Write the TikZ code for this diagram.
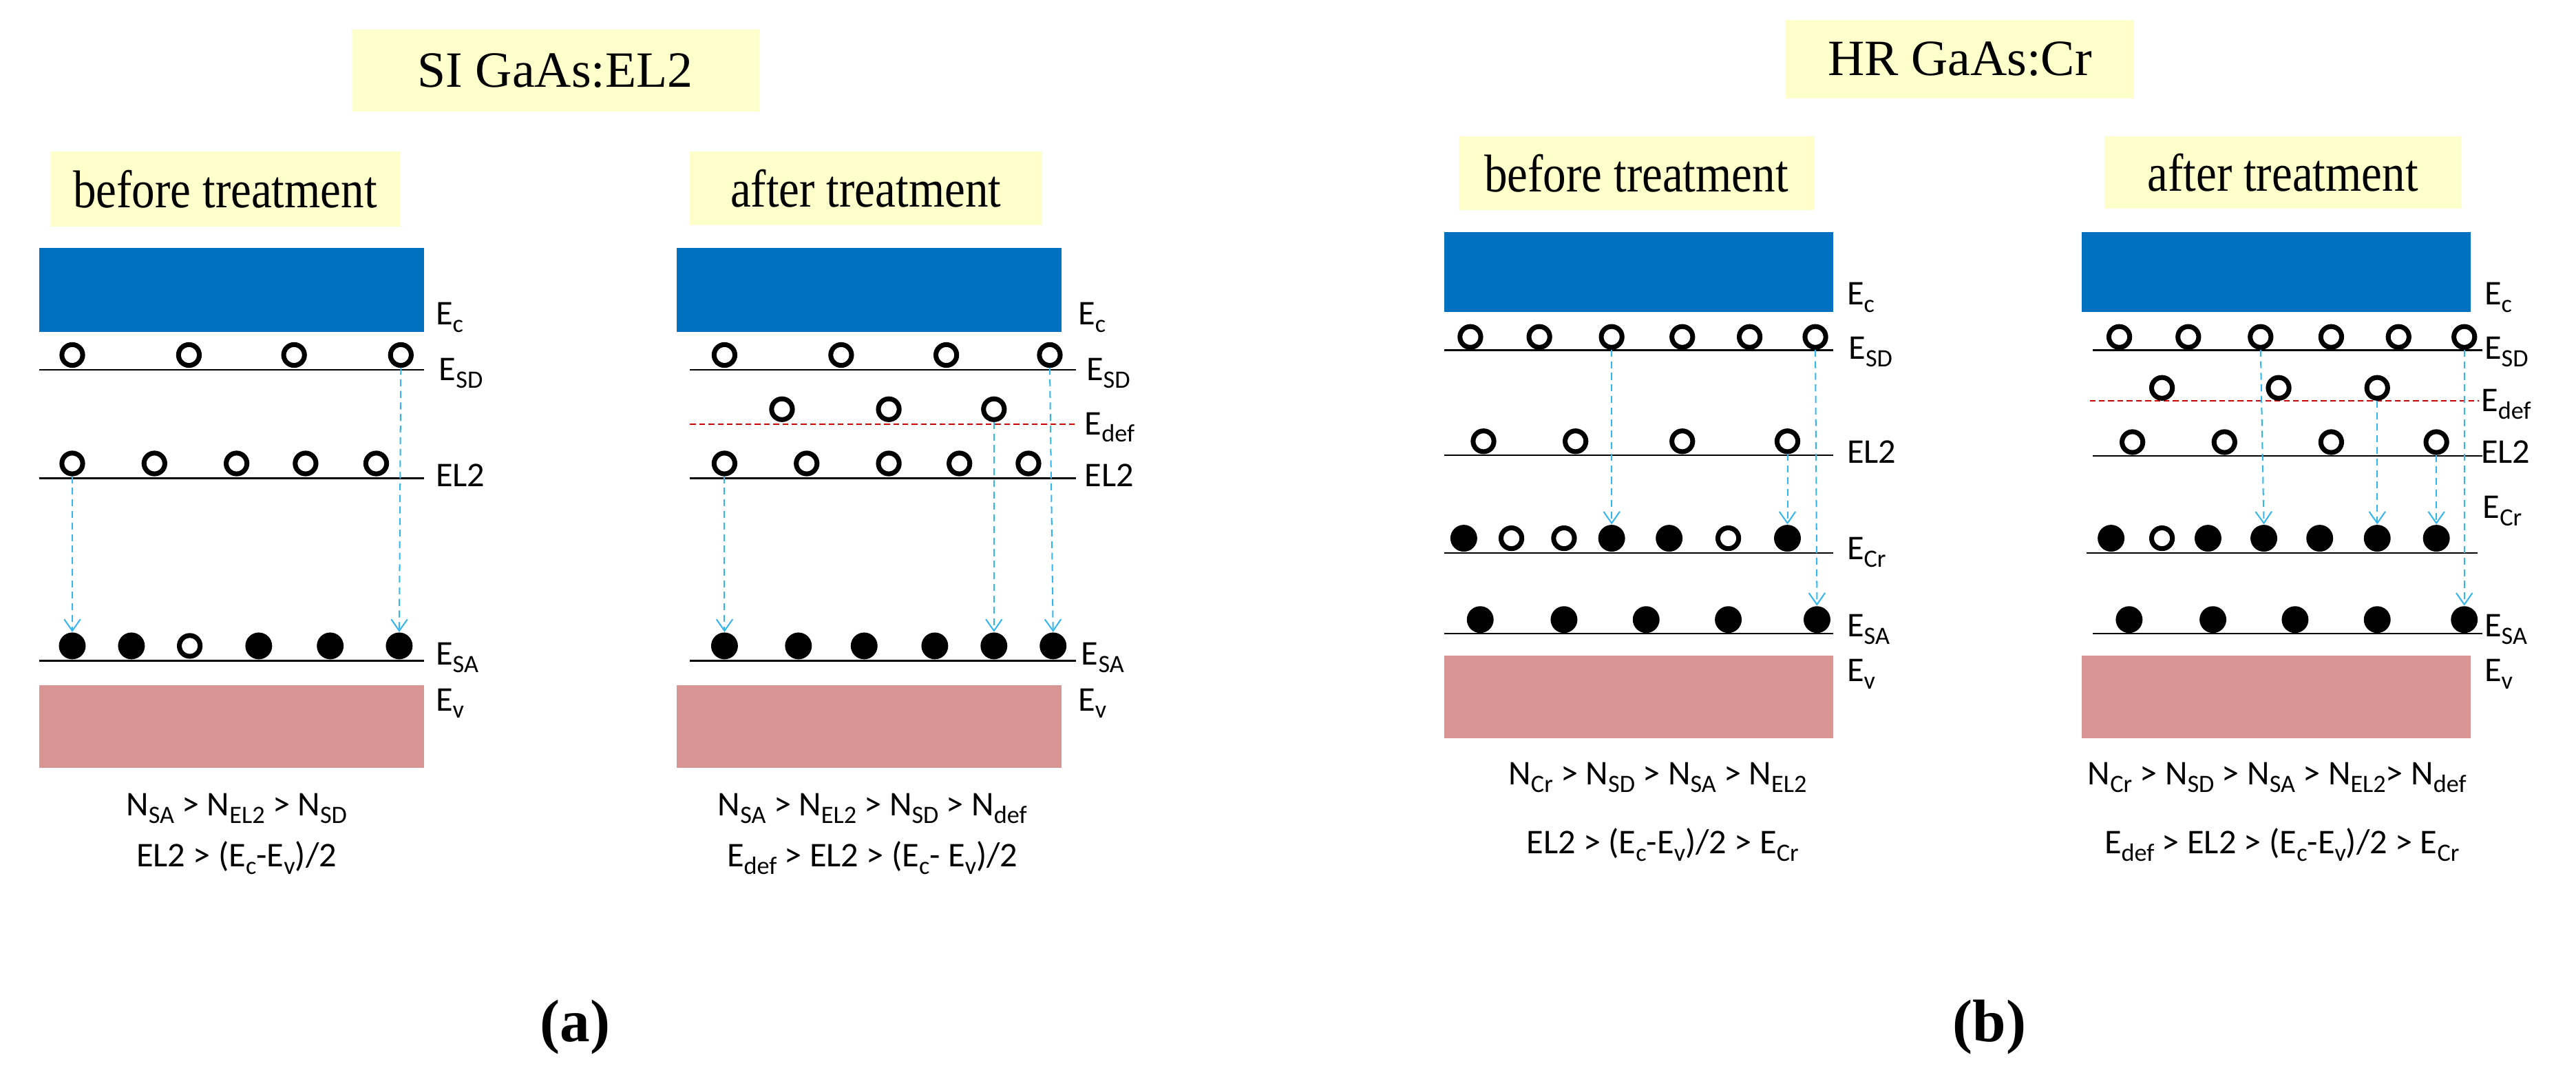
\documentclass[tikz,border=0pt]{standalone}
\usepackage{fontspec}
\setmainfont{Liberation Serif}
\newfontfamily\lab{Carlito}
\usetikzlibrary{arrows.meta}
\definecolor{cblue}{HTML}{0070C0}
\definecolor{cpink}{HTML}{D99594}
\definecolor{cyel}{HTML}{FFFFCC}
\definecolor{carr}{HTML}{33B5F0}
\newcommand\dn[1]{\raisebox{-0.45ex}{\scalebox{0.72}{#1}}}
\begin{document}
\begin{tikzpicture}[x=0.025cm,y=-0.025cm,
  oc/.style={circle,draw=black,line width=2.1pt,fill=white,minimum size=9pt,inner sep=0pt},
  fc/.style={circle,fill=black,minimum size=11.6pt,inner sep=0pt},
  lev/.style={line width=0.7pt},
  defl/.style={red!80!black,line width=0.7pt,dash pattern=on 2.5pt off 1.5pt},
  arr/.style={carr,line width=0.6pt,dash pattern=on 3pt off 2pt,-{Straight Barb[length=5pt,width=7pt]}},
  lb/.style={anchor=west,font=\lab\fontsize{15}{15}\selectfont,inner sep=0pt},
  eq/.style={font=\lab\fontsize{15}{15}\selectfont,inner sep=0pt},
  ttl/.style={fill=cyel,font=\fontsize{22}{22}\selectfont,inner sep=0pt},
  sub/.style={fill=cyel,font=\fontsize{20}{20}\selectfont,inner sep=0pt},
  pl/.style={font=\bfseries\fontsize{26}{26}\selectfont,inner sep=0pt}]
\useasboundingbox (0,0) rectangle (1568,654);

% ---------- titles ----------
\node[ttl,minimum width=248*0.025cm,minimum height=50*0.025cm] (tA) at (338,43) {SI GaAs:EL2};
\node[ttl,minimum width=212*0.025cm,minimum height=48*0.025cm] (tB) at (1193,36) {HR GaAs:Cr};
\node[sub,minimum width=213*0.025cm,minimum height=46*0.025cm] (sA1) at (137,115) {\scalebox{1}[1.15]{before treatment}};
\node[sub,minimum width=214*0.025cm,minimum height=45*0.025cm] (sA2) at (527,114.5) {\scalebox{1}[1.15]{after treatment}};
\node[sub,minimum width=216*0.025cm,minimum height=45*0.025cm] (sB1) at (996,105.5) {\scalebox{1}[1.15]{before treatment}};
\node[sub,minimum width=217*0.025cm,minimum height=44*0.025cm] (sB2) at (1389.5,105) {\scalebox{1}[1.15]{after treatment}};
\node[pl] (pa) at (350,625) {(a)};
\node[pl] (pb) at (1211,625) {(b)};

% ================= panel a, before =================
\fill[cblue] (23.7,151) rectangle (258,202);
\fill[cpink] (23.7,417) rectangle (258,467);
\draw[lev] (23.7,225) -- (258,225);
\draw[lev] (23.7,291) -- (258,291);
\draw[lev] (23.7,402) -- (258,402);
\foreach \x [count=\i] in {44,115,179,244} \node[oc] (aSD\i) at (\x,216) {};
\foreach \x [count=\i] in {44,94,144,186,229} \node[oc] (aEL\i) at (\x,282) {};
\foreach \x/\s [count=\i] in {44/fc,80/fc,115.5/oc,157.5/fc,201/fc,243/fc} \node[\s] (aSA\i) at (\x,393) {};
\draw[arr] (aEL1.south) -- (aSA1.north);
\draw[arr] (aSD4.south) -- (aSA6.north);
\node[lb] (laEc) at (265,193) {E\dn{c}};
\node[lb] (laSD) at (267,227) {E\dn{SD}};
\node[lb] (laEL) at (265,289) {EL2};
\node[lb] (laSA) at (265,400) {E\dn{SA}};
\node[lb] (laEv) at (265,428) {E\dn{v}};
\node[eq] (qa1) at (144,492) {N\dn{SA} > N\dn{EL2} > N\dn{SD}};
\node[eq] (qa2) at (144,522) {EL2 > (E\dn{c}-E\dn{v})/2};

% ================= panel a, after =================
\fill[cblue] (412,151) rectangle (646,202);
\fill[cpink] (412,417) rectangle (646,467);
\draw[lev] (420,225) -- (655,225);
\draw[defl] (420,258) -- (655,258);
\draw[lev] (420,291) -- (655,291);
\draw[lev] (420,402) -- (655,402);
\foreach \x [count=\i] in {441,512,576,639} \node[oc] (bSD\i) at (\x,216) {};
\foreach \x [count=\i] in {476,541,605} \node[oc] (bDF\i) at (\x,249) {};
\foreach \x [count=\i] in {441,491,541,584,626} \node[oc] (bEL\i) at (\x,282) {};
\foreach \x [count=\i] in {441,486,526,569,605,641} \node[fc] (bSA\i) at (\x,393) {};
\draw[arr] (bEL1.south) -- (bSA1.north);
\draw[arr] (bDF3.south) -- (bSA5.north);
\draw[arr] (bSD4.south) -- (bSA6.north);
\node[lb] (lbEc) at (656,193) {E\dn{c}};
\node[lb] (lbSD) at (661,227) {E\dn{SD}};
\node[lb] (lbDF) at (660,260) {E\dn{def}};
\node[lb] (lbEL) at (660,289) {EL2};
\node[lb] (lbSA) at (658,400) {E\dn{SA}};
\node[lb] (lbEv) at (656,428) {E\dn{v}};
\node[eq] (qb1) at (531,492) {N\dn{SA} > N\dn{EL2} > N\dn{SD} > N\dn{def}};
\node[eq] (qb2) at (531,522) {E\dn{def} > EL2 > (E\dn{c}- E\dn{v})/2};

% ================= panel b, before =================
\fill[cblue] (879,141) rectangle (1116,190);
\fill[cpink] (879,399) rectangle (1116,449);
\draw[lev] (879,213) -- (1116,213);
\draw[lev] (879,277) -- (1116,277);
\draw[lev] (879,336.5) -- (1116,336.5);
\draw[lev] (879,385.5) -- (1116,385.5);
\foreach \x [count=\i] in {895,937,981,1024,1065,1105} \node[oc] (cSD\i) at (\x,205) {};
\foreach \x [count=\i] in {903,959,1024,1088} \node[oc] (cEL\i) at (\x,268.5) {};
\foreach \x/\s [count=\i] in {891/fc,920/oc,952/oc,981/fc,1016/fc,1052/oc,1088/fc} \node[\s] (cCR\i) at (\x,327.5) {};
\foreach \x [count=\i] in {901,952,1002,1052,1106} \node[fc] (cSA\i) at (\x,377) {};
\draw[arr] (cSD3.south) -- (cCR4.north);
\draw[arr] (cEL4.south) -- (cCR7.north);
\draw[arr] (cSD6.south) -- (cSA5.north);
\node[lb] (lcEc) at (1124,181) {E\dn{c}};
\node[lb] (lcSD) at (1125,214) {E\dn{SD}};
\node[lb] (lcEL) at (1124,275) {EL2};
\node[lb] (lcCR) at (1124,336) {E\dn{Cr}};
\node[lb] (lcSA) at (1124,383) {E\dn{SA}};
\node[lb] (lcEv) at (1124,410) {E\dn{v}};
\node[eq] (qc1) at (1009,473) {N\dn{Cr} > N\dn{SD} > N\dn{SA} > N\dn{EL2}};
\node[eq] (qc2) at (1012,514) {EL2 > (E\dn{c}-E\dn{v})/2 > E\dn{Cr}};

% ================= panel b, after =================
\fill[cblue] (1267,141) rectangle (1504,190);
\fill[cpink] (1267,399) rectangle (1504,449);
\draw[lev] (1274,213) -- (1511,213);
\draw[defl,line width=0.5pt] (1272,244) -- (1509,244);
\draw[lev] (1274,277.5) -- (1511,277.5);
\draw[lev] (1270,336.5) -- (1508,336.5);
\draw[lev] (1274,385.5) -- (1511,385.5);
\foreach \x [count=\i] in {1290,1332,1376,1419,1460,1500} \node[oc] (dSD\i) at (\x,205) {};
\foreach \x [count=\i] in {1316,1387,1447} \node[oc] (dDF\i) at (\x,236) {};
\foreach \x [count=\i] in {1298,1354,1419,1483} \node[oc] (dEL\i) at (\x,269) {};
\foreach \x/\s [count=\i] in {1285/fc,1316/oc,1344/fc,1378/fc,1412/fc,1447/fc,1483/fc} \node[\s] (dCR\i) at (\x,327.5) {};
\foreach \x [count=\i] in {1296,1347,1397,1447,1500} \node[fc] (dSA\i) at (\x,377) {};
\draw[arr] (dSD3.south) -- (dCR4.north);
\draw[arr] (dDF3.south) -- (dCR6.north);
\draw[arr] (dEL4.south) -- (dCR7.north);
\draw[arr] (dSD6.south) -- (dSA5.north);
\node[lb] (ldEc) at (1512,181) {E\dn{c}};
\node[lb] (ldSD) at (1512,214) {E\dn{SD}};
\node[lb] (ldDF) at (1510,246) {E\dn{def}};
\node[lb] (ldEL) at (1510,275) {EL2};
\node[lb] (ldCR) at (1511,311) {E\dn{Cr}};
\node[lb] (ldSA) at (1512,383) {E\dn{SA}};
\node[lb] (ldEv) at (1512,410) {E\dn{v}};
\node[eq] (qd1) at (1386,473) {N\dn{Cr} > N\dn{SD} > N\dn{SA} > N\dn{EL2}> N\dn{def}};
\node[eq] (qd2) at (1389,514) {E\dn{def} > EL2 > (E\dn{c}-E\dn{v})/2 > E\dn{Cr}};
\end{tikzpicture}
\end{document}
